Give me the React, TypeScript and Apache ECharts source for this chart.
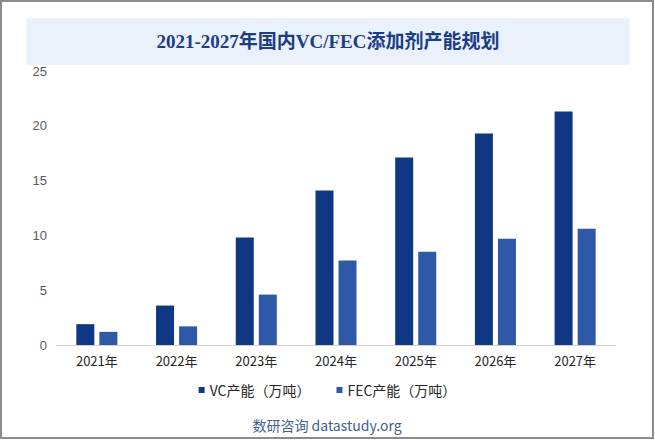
import React, { useEffect, useRef } from "react";
import * as echarts from "echarts";

const categories = ["2021年", "2022年", "2023年", "2024年", "2025年", "2026年", "2027年"];
const vcValues = [1.9, 3.6, 9.8, 14.1, 17.1, 19.3, 21.3];
const fecValues = [1.2, 1.7, 4.6, 7.7, 8.5, 9.7, 10.6];
const seriesNames = ["VC产能（万吨）", "FEC产能（万吨）"];
const titleText = "2021-2027年国内VC/FEC添加剂产能规划";
const footerText = "数研咨询 datastudy.org";

export default function App() {
  const ref = useRef<HTMLDivElement>(null);
  useEffect(() => {
    if (!ref.current) return;
    const chart = echarts.init(ref.current, null, { renderer: "svg" });
    chart.setOption({
      animation: false,
      backgroundColor: "#ffffff",
      grid: { left: 57, right: 40, top: 71, bottom: 95 },
      graphic: [
        {
          type: "rect",
          shape: { x: 1, y: 1, width: 652, height: 437 },
          style: { fill: "none", stroke: "#8c8c8c", lineWidth: 2 },
          silent: true,
        },
        {
          type: "rect",
          shape: { x: 26, y: 18, width: 604, height: 47 },
          style: { fill: "#eaf1fb" },
          silent: true,
        },
        {
          type: "text",
          x: 328,
          y: 41,
          style: {
            text: titleText,
            fill: "#1b3c86",
            font: 'bold 19px "Liberation Serif", "DejaVu Serif", "Noto Sans CJK SC", serif',
            align: "center",
            verticalAlign: "middle",
          },
        },
        {
          type: "text",
          x: 327,
          y: 425,
          style: {
            text: footerText,
            fill: "#3f5f8f",
            font: '14px "Noto Sans CJK SC", "Noto Sans", sans-serif',
            align: "center",
            verticalAlign: "middle",
          },
        },
      ],
      legend: {
        bottom: 38,
        left: "center",
        itemWidth: 6,
        itemHeight: 6,
        itemGap: 26,
        icon: "rect",
        textStyle: {
          color: "#262626",
          fontSize: 14,
          fontFamily: '"Noto Sans CJK SC", "Noto Sans", sans-serif',
        },
        data: seriesNames,
      },
      xAxis: {
        type: "category",
        data: categories,
        axisTick: { show: false },
        axisLine: { lineStyle: { color: "#d0d0d0", width: 1 } },
        axisLabel: {
          color: "#262626",
          fontSize: 13,
          margin: 9,
          fontFamily: '"Noto Sans CJK SC", "Noto Sans", sans-serif',
        },
      },
      yAxis: {
        type: "value",
        min: 0,
        max: 25,
        interval: 5,
        splitLine: { show: false },
        axisLine: { show: false },
        axisTick: { show: false },
        axisLabel: {
          color: "#595959",
          fontSize: 13,
          margin: 10,
          fontFamily: '"Liberation Sans", Arial, sans-serif',
        },
      },
      series: [
        {
          name: seriesNames[0],
          type: "bar",
          data: vcValues,
          barWidth: 18,
          barGap: "28%",
          itemStyle: { color: "#0f3784" },
        },
        {
          name: seriesNames[1],
          type: "bar",
          data: fecValues,
          barWidth: 18,
          itemStyle: { color: "#2f59a7" },
        },
      ],
    });
    return () => chart.dispose();
  }, []);
  return (
    <div
      ref={ref}
      style={{ position: "absolute", left: 0, top: 0, width: 655, height: 440 }}
    />
  );
}
